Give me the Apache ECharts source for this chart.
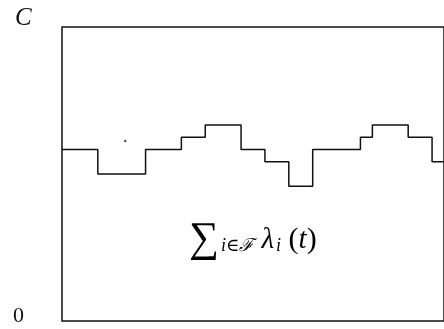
<!DOCTYPE html>
<html>
<head>
<meta charset="utf-8">
<script src="https://cdn.jsdelivr.net/npm/echarts@6/dist/echarts.min.js"></script>
<style>
  html, body { margin: 0; padding: 0; background: #fff; }
  #chart { width: 444px; height: 329px; }
</style>
</head>
<body>
<div id="chart"></div>
<script>
// step edges (in time units) and the level held from each edge on
var stepStarts = [0, 3, 7, 10, 12, 15, 17, 19, 21, 25, 26, 29, 31, 32];
var stepLevels = [14, 12, 14, 15, 16, 14, 13, 11, 14, 15, 16, 15, 13, 13];
var capacity = 24;          // C
var tickValues = [0, 24];
var tickLabels = ['0', 'C'];
var strayDot = [[5.3, 14.7]];   // little speck in the scan

var stepData = [];
for (var i = 0; i < stepStarts.length; i++) {
    stepData.push([stepStarts[i], stepLevels[i]]);
}

var serif = '"Liberation Serif", "DejaVu Serif", serif';

var option = {
    backgroundColor: '#fff',
    animation: false,
    grid: {
        left: 62,
        top: 27,
        width: 384,
        height: 294,
        show: true,
        borderColor: '#111',
        borderWidth: 1.5,
        backgroundColor: 'transparent'
    },
    xAxis: {
        type: 'value',
        min: 0,
        max: 32,
        axisLine: { show: false },
        axisTick: { show: false },
        axisLabel: { show: false },
        splitLine: { show: false }
    },
    yAxis: {
        type: 'value',
        min: 0,
        max: capacity,
        interval: capacity,
        axisLine: { show: false },
        axisTick: { show: false },
        splitLine: { show: false },
        axisLabel: { show: false }
    },
    series: [
        {
            type: 'line',
            step: 'end',
            data: stepData,
            symbol: 'none',
            lineStyle: { color: '#111', width: 1.5 },
            clip: true
        },
        {
            type: 'scatter',
            data: strayDot,
            symbolSize: 2.5,
            itemStyle: { color: '#222' }
        }
    ]
};

var myChart = echarts.init(document.getElementById('chart'));
myChart.setOption(option);

// tick labels, bottom-aligned on their value, and the formula
var labelEls = [];
for (var k = 0; k < tickValues.length; k++) {
    var py = myChart.convertToPixel({ yAxisIndex: 0 }, tickValues[k]);
    labelEls.push({
        type: 'text',
        x: k === 0 ? 13 : 15,
        y: py + (k === 0 ? 6 : 4),
        style: {
            text: tickLabels[k],
            fontFamily: serif,
            fontSize: k === 0 ? 22 : 25,
            fontStyle: k === 0 ? 'normal' : 'italic',
            fill: '#111',
            verticalAlign: 'bottom'
        }
    });
}
labelEls.push({
    type: 'text',
    left: 189,
    top: 219,
    style: {
        text: '{s|∑}{sb|i∈ℱ}{m| λ}{sb|i}{p| (}{m|t}{p|)}',
        rich: {
            s: { fontFamily: serif, fontSize: 42, color: '#111', lineHeight: 40 },
            m: { fontFamily: serif, fontSize: 29, fontStyle: 'italic', color: '#111', lineHeight: 40 },
            p: { fontFamily: serif, fontSize: 30, color: '#111', lineHeight: 40 },
            sb: { fontFamily: serif, fontSize: 18, fontStyle: 'italic', color: '#111', verticalAlign: 'bottom', lineHeight: 18, padding: [0, 0, 5, 2] }
        }
    }
});
myChart.setOption({ graphic: labelEls });
</script>
</body>
</html>
